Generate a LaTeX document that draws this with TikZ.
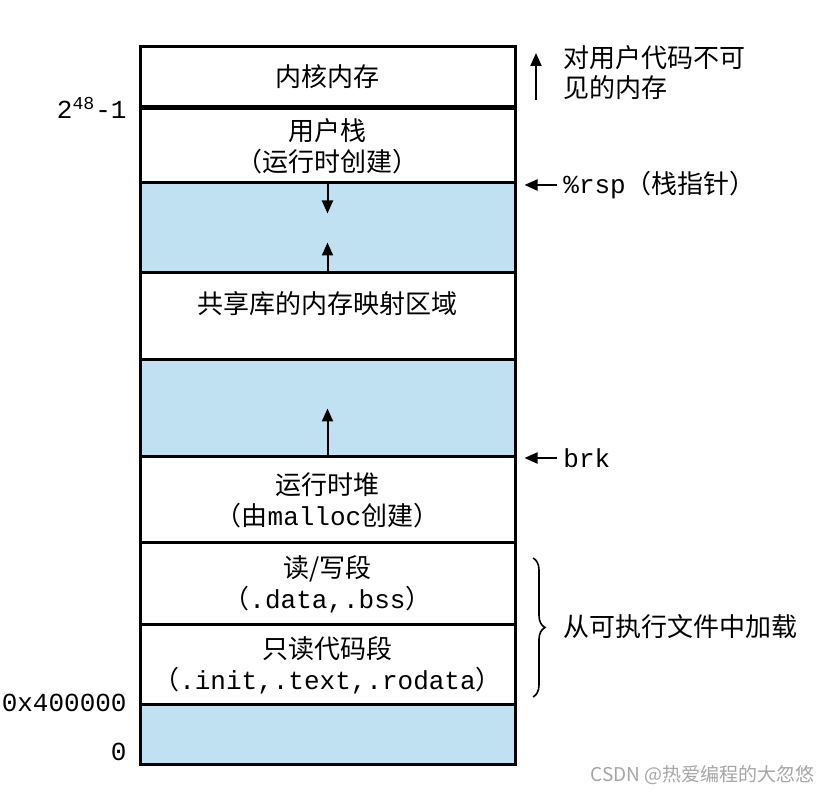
\documentclass[tikz,border=0pt]{standalone}
\usepackage{fontspec}
\setmainfont{Noto Sans CJK SC}
\setmonofont{Liberation Mono}
\usepackage{tikz}
\usetikzlibrary{positioning,arrows.meta,decorations.pathreplacing}
\definecolor{gapblue}{RGB}{192,225,241}

\begin{document}
\begin{tikzpicture}[x=0.5pt,y=-0.5pt,
    seg/.style={draw, line width=1.5pt, minimum width=187.5pt, inner sep=0pt,
                align=center, font=\fontsize{13}{15.5}\selectfont},
    gap/.style={seg, fill=gapblue},
    lbl/.style={inner sep=0pt, font=\fontsize{13}{15}\selectfont},
    addr/.style={lbl, anchor=east, font=\ttfamily\fontsize{13}{15}\selectfont},
    tip/.style={-{Triangle[length=6.5pt,width=5.5pt]}, line width=1pt}]
\useasboundingbox (0,0) rectangle (832,795);

% address space, top to bottom
\node[seg, minimum height=30pt] (kernel) at (327.5,77) {内核内存};
\node[seg, minimum height=37pt] (stack) at (327.5,146) {用户栈\\（运行时创建）};
\node[gap, minimum height=45pt] (gaptop) at (327.5,228) {};
\node[seg, minimum height=43.5pt] (shlib) at (327.5,316.5) {};
\node[lbl, font=\fontsize{13}{15.5}\selectfont] (shlibtxt) at ([yshift=6.5pt]shlib.center) {共享库的内存映射区域};
\node[gap, minimum height=48.5pt] (gapmid) at (327.5,408.5) {};
\node[seg, minimum height=43pt] (heap) at (327.5,500) {运行时堆\\（由{\ttfamily malloc}创建）};
\node[seg, minimum height=41pt] (rwseg) at (327.5,584) {读/写段\\（{\ttfamily .data,.bss}）};
\node[seg, minimum height=40pt] (roseg) at (327.5,665) {只读代码段\\（{\ttfamily .init,.text,.rodata}）};
\node[gap, minimum height=30pt] (gapbot) at (327.5,735) {};

% growth arrows
\draw[tip] (stack.south) -- ([yshift=-14.5pt]stack.south);
\draw[tip] (shlib.north) -- ([yshift=14.5pt]shlib.north);
\draw[tip] (heap.north) -- ([yshift=23.5pt]heap.north);

% addresses
\node[addr] (amax) at (127,108) {2\textsuperscript{48}-1};
\node[addr] (atext) at (127,703) {0x400000};
\node[addr] (azero) at (127,752) {0};

% right side notes
\node[lbl, anchor=west, align=left] (hidden) at (563,73) {对用户代码不可\\见的内存};
\coordinate (upfrom) at (536,100);
\coordinate (upto) at (536,53);
\draw[tip] (upfrom) -- (upto);

\node[lbl, anchor=west] (rsp) at (563,185) {{\ttfamily\%rsp}（栈指针）};
\draw[tip, shorten <=3pt] (rsp.west) -- ([xshift=4pt]rsp.west -| stack.east);

\node[lbl, anchor=west] (brk) at (563,458) {\ttfamily brk};
\draw[tip, shorten <=3pt] (brk.west) -- ([xshift=4pt]brk.west -| heap.east);

\draw[decorate, decoration={brace, amplitude=6pt}, line width=0.8pt] (533,558) -- (533,697);
\node[lbl, anchor=west] (load) at (563,627) {从可执行文件中加载};

\node[lbl, anchor=east, text=gray!70, font=\fontsize{9.5}{11}\selectfont] (mark) at (815,775) {CSDN @热爱编程的大忽悠};
\end{tikzpicture}
\end{document}
